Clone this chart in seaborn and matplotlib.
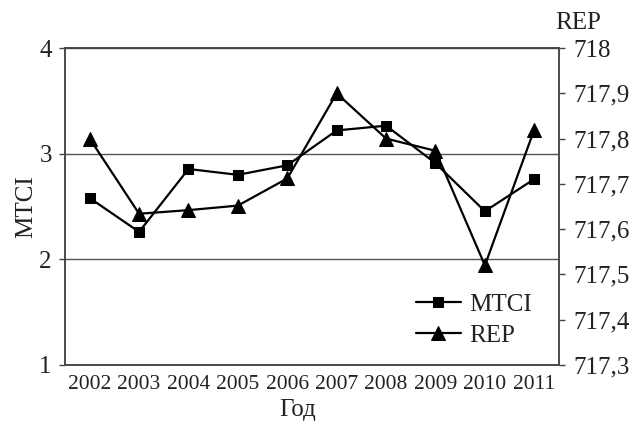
import numpy as np
import pandas as pd
import matplotlib
matplotlib.use("Agg")
import matplotlib.pyplot as plt
from matplotlib.ticker import FixedLocator, FuncFormatter
import seaborn as sns

years = ["2002", "2003", "2004", "2005", "2006", "2007", "2008", "2009", "2010", "2011"]
mtci = [2.58, 2.26, 2.855, 2.80, 2.89, 3.22, 3.265, 2.91, 2.455, 2.76]
rep = [717.80, 717.634, 717.642, 717.652, 717.712, 717.90, 717.80, 717.773, 717.52, 717.82]
mtci_ticks = [1, 2, 3, 4]
rep_ticks = [717.3, 717.4, 717.5, 717.6, 717.7, 717.8, 717.9, 718.0]

sns.set_theme(style="white")
plt.rcParams["font.family"] = ["Liberation Serif", "DejaVu Serif"]
plt.rcParams["axes.unicode_minus"] = False

ink = "#222222"
spine_col = "#444444"

df = pd.DataFrame({"pos": np.arange(len(years)), "MTCI": mtci, "REP": rep})

fig = plt.figure(figsize=(6.39, 4.25), dpi=100)
ax = fig.add_axes([0.1017, 0.1412, 0.7731, 0.7458])
ax2 = ax.twinx()

sns.lineplot(data=df, x="pos", y="MTCI", ax=ax, color="black", lw=1.6,
             marker="s", markersize=7.5, markeredgecolor="black",
             label="MTCI", legend=False)
sns.lineplot(data=df, x="pos", y="REP", ax=ax2, color="black", lw=1.6,
             marker="^", markersize=9.5, markeredgecolor="black",
             label="REP", legend=False)

# x axis: category labels centred between boundary ticks
ax.set_xlim(-0.5, len(years) - 0.5)
ax.xaxis.set_major_locator(FixedLocator(np.arange(-0.5, len(years), 1.0)))
ax.xaxis.set_major_formatter(FuncFormatter(lambda v, p: ""))
ax.xaxis.set_minor_locator(FixedLocator(np.arange(len(years))))
ax.set_xticklabels(years, minor=True)
ax.tick_params(axis="x", which="major", direction="out", length=4, width=1, color=spine_col)
ax.tick_params(axis="x", which="minor", length=0, pad=7, labelsize=15.5, labelcolor=ink)

# left axis
ax.set_ylim(1, 4)
ax.set_yticks(mtci_ticks)
ax.tick_params(axis="y", direction="out", length=4, width=1, color=spine_col,
               pad=5.5, labelsize=18, labelcolor=ink)
ax.yaxis.grid(True, color="#555555", lw=1)
ax.xaxis.grid(False)

# right axis
ax2.set_ylim(717.3, 718.0)
ax2.set_yticks(rep_ticks)
ax2.yaxis.set_major_formatter(FuncFormatter(
    lambda v, p: f"{v:.0f}" if abs(v - round(v)) < 1e-6 else f"{v:.1f}".replace(".", ",")))
ax2.tick_params(axis="y", direction="out", length=4, width=1, color=spine_col,
                pad=6.5, labelsize=18, labelcolor=ink)
ax2.grid(False)

for a in (ax, ax2):
    for s in a.spines.values():
        s.set_color(spine_col)
        s.set_linewidth(1.1)

ax.set_xlabel("Год", fontsize=18, color=ink)
ax.xaxis.set_label_coords(0.47, -0.107)
ax.set_ylabel("MTCI", fontsize=18, color=ink)
ax.yaxis.set_label_coords(-0.057, 0.5)
ax2.set_ylabel("")
ax2.text(1.038, 1.06, "REP", transform=ax2.transAxes, ha="center", va="baseline",
         fontsize=18, color=ink)

handles = ax.get_lines()[:1] + ax2.get_lines()[:1]
leg = ax.legend(handles, ["MTCI", "REP"], loc="upper left", bbox_to_anchor=(0.71, 0.225),
                frameon=False, fontsize=18, handlelength=1.8, handletextpad=0.35,
                labelspacing=0.32, borderaxespad=0, borderpad=0)
for t in leg.get_texts():
    t.set_color(ink)

fig.savefig("out.png", dpi=100)
